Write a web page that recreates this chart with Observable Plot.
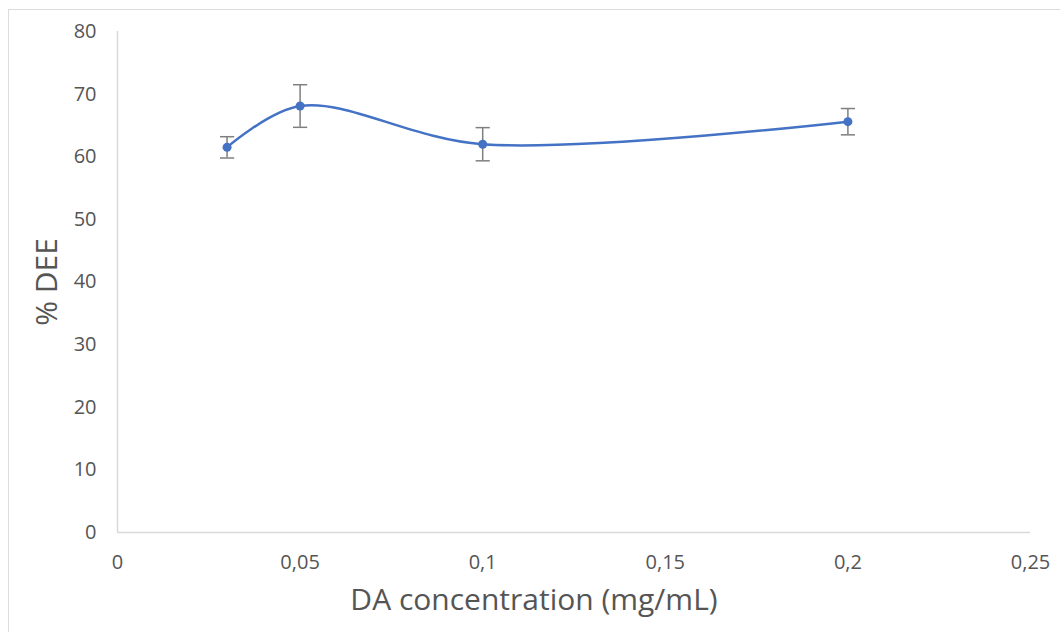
<!DOCTYPE html>
<html>
<head>
<meta charset="utf-8">
<script src="https://cdn.jsdelivr.net/npm/d3@7"></script>
<script src="https://cdn.jsdelivr.net/npm/@observablehq/plot@0.6"></script>
<style>
  html, body { margin: 0; padding: 0; background: #fff; }
  #wrap { position: relative; width: 1060px; height: 632px; overflow: hidden; }
  #frame { position: absolute; left: 8px; top: 9px; width: 1200px; height: 700px;
           border-top: 1px solid #dcdcdc; border-left: 1px solid #dcdcdc; }
  #chart { position: absolute; left: 0; top: 0; }
  svg text { font-family: "Open Sans", "Liberation Sans", sans-serif; }
</style>
</head>
<body>
<div id="wrap"><div id="frame"></div><div id="chart"></div></div>
<script>
const concentration = [0.03, 0.05, 0.1, 0.2];
const dee = [61.5, 68.1, 62.0, 65.6];
const errors = [1.7, 3.4, 2.65, 2.1];
const xTicks = [0, 0.05, 0.1, 0.15, 0.2, 0.25];
const yTicks = [0, 10, 20, 30, 40, 50, 60, 70, 80];

const data = concentration.map((c, i) => ({x: c, y: dee[i], lo: dee[i] - errors[i], hi: dee[i] + errors[i]}));

const cap = {draw(ctx, size) { const r = Math.sqrt(size); ctx.moveTo(-r, 0); ctx.lineTo(r, 0); }};
const blue = "#4472C4";
const grey = "#7f7f7f";
const textColor = "#555555";

const plot = Plot.plot({
  width: 1060,
  height: 632,
  marginLeft: 117,
  marginRight: 30,
  marginTop: 31,
  marginBottom: 100,
  style: {fontFamily: "'Open Sans', sans-serif", background: "transparent", overflow: "visible"},
  x: {domain: [0, 0.25], ticks: xTicks, tickFormat: d => String(d).replace(".", ",")},
  y: {domain: [0, 80], ticks: yTicks},
  marks: [
    Plot.ruleY([0], {stroke: "#d9d9d9", strokeWidth: 1.5}),
    Plot.ruleX([0], {stroke: "#d9d9d9", strokeWidth: 1.5}),
    Plot.axisX({ticks: xTicks, tickFormat: d => String(d).replace(".", ","), tickSize: 0, tickPadding: 22,
      fontSize: 20, fill: textColor, label: null}),
    Plot.axisY({ticks: yTicks, tickSize: 0, tickPadding: 21, fontSize: 20, fill: textColor, label: null}),
    Plot.text(["DA concentration (mg/mL)"], {frameAnchor: "bottom", dx: -40, dy: 77, fontSize: 30, fill: textColor}),
    Plot.text(["% DEE"], {frameAnchor: "left", textAnchor: "middle", dx: -70, rotate: -90, fontSize: 30, fill: textColor}),
    Plot.ruleX(data, {x: "x", y1: "lo", y2: "hi", stroke: grey, strokeWidth: 1.5}),
    Plot.dot(data, {x: "x", y: "lo", symbol: cap, r: 4, stroke: grey, strokeWidth: 1.5}),
    Plot.dot(data, {x: "x", y: "hi", symbol: cap, r: 4, stroke: grey, strokeWidth: 1.5}),
    Plot.line(data, {x: "x", y: "y", curve: "catmull-rom", stroke: blue, strokeWidth: 2.5}),
    Plot.dot(data, {x: "x", y: "y", r: 4.5, fill: blue})
  ]
});
document.getElementById("chart").appendChild(plot);
</script>
</body>
</html>
